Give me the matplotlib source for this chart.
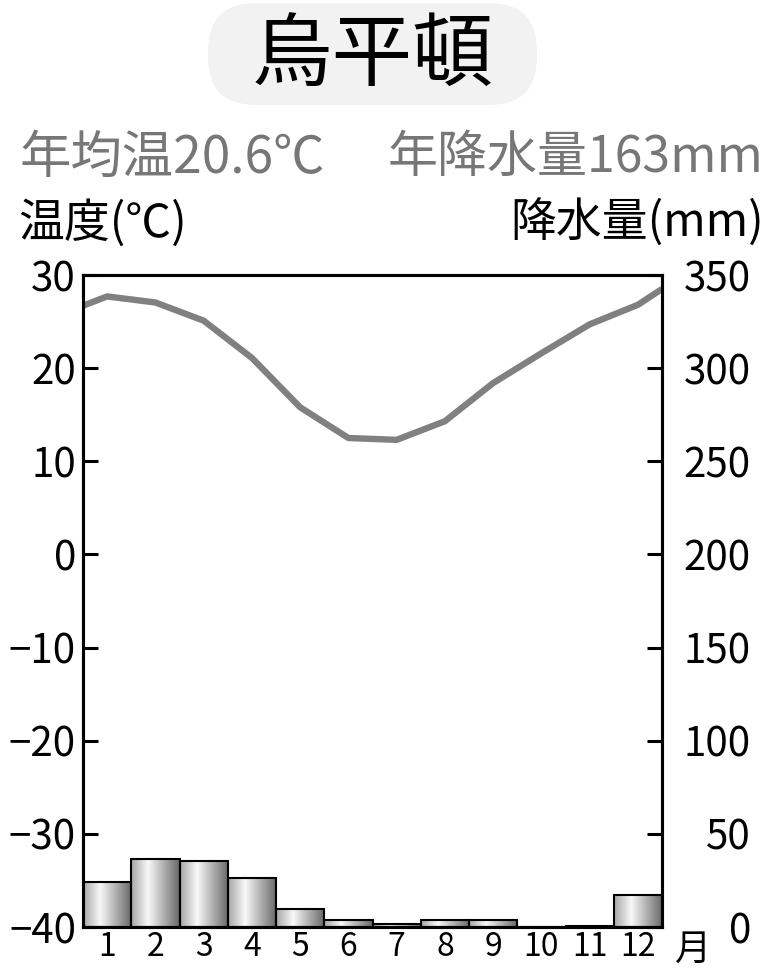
import numpy as np
import matplotlib
matplotlib.use('Agg')
import matplotlib.pyplot as plt
from matplotlib.colors import LinearSegmentedColormap
from matplotlib.patches import FancyBboxPatch
from matplotlib.transforms import IdentityTransform

plt.rcParams['font.family'] = ['Noto Sans CJK JP', 'DejaVu Sans']

city = '烏平頓'
annual_temp = '年均温20.6℃'
annual_precip = '年降水量163mm'
months = list(range(1, 13))
month_labels = [str(m) for m in months]
# temperature line, incl. the points where it meets the plot edges
temp_x = [0.5] + months + [12.5]
temp = [26.7, 27.7, 27.05, 25.1, 21.1, 15.8, 12.5, 12.3, 14.3, 18.4, 21.6, 24.7, 26.8, 28.5]
precip = [24.2, 36.6, 35.2, 26.2, 9.8, 3.8, 1.6, 3.8, 3.8, 0, 0.4, 17]
temp_ticks = list(range(-40, 31, 10))
precip_ticks = list(range(0, 351, 50))

W, H = 766, 975
fig = plt.figure(figsize=(W / 100, H / 100), dpi=100)


def fx(x):
    return x / W


def fy(y):
    return 1 - y / H


# title pill
box = FancyBboxPatch((208, H - 105), 329, 102,
                     boxstyle='round,pad=0,rounding_size=48',
                     fc='#f2f2f2', ec='none', transform=IdentityTransform())
fig.patches.append(box)
fig.text(fx(372), fy(58), city, fontsize=58, ha='center', va='center')

fig.text(fx(20), fy(158), annual_temp, fontsize=37, color='#777777', ha='left', va='center')
fig.text(fx(764), fy(158), annual_precip, fontsize=36, color='#777777', ha='right', va='center')
fig.text(fx(18), fy(224), '温度(℃)', fontsize=33, ha='left', va='center')
fig.text(fx(764), fy(224), '降水量(mm)', fontsize=33, ha='right', va='center')

ax = fig.add_axes([fx(83), fy(927), (662 - 83) / W, (927 - 275) / H])
ax2 = ax.twinx()

# precipitation bars with a metallic gradient
grad = LinearSegmentedColormap.from_list('bar', [(0, '#a6a6a6'), (0.35, '#f8f8f8'), (1, '#666666')])
g = np.linspace(0, 1, 256).reshape(1, -1)
bars = ax2.bar(months, precip, width=1.0, facecolor='none', edgecolor='black', linewidth=1.5, zorder=3)
for rect, m, p in zip(bars, months, precip):
    if p <= 0:
        continue
    im = ax2.imshow(g, cmap=grad, extent=[m - 0.5, m + 0.5, 0, p], aspect='auto', zorder=2)
    im.set_clip_path(rect)

ax.plot(temp_x, temp, color='#808080', linewidth=4.6, solid_joinstyle='round', solid_capstyle='butt')
ax.set_zorder(ax2.get_zorder() + 1)
ax.patch.set_visible(False)

ax.set_xlim(0.5, 12.5)
ax.set_ylim(-40, 30)
ax2.set_ylim(0, 350)
ax.set_xticks(months)
ax.set_xticklabels(month_labels, fontsize=23)
ax.set_yticks(temp_ticks)
ax.set_yticklabels([str(t).replace('-', '\u2212') for t in temp_ticks], fontsize=29)
ax2.set_yticks(precip_ticks)
ax2.set_yticklabels([str(p) for p in precip_ticks], fontsize=29, ha='right')

ax.tick_params(axis='x', length=0, pad=3)
ax.tick_params(axis='y', direction='in', length=11, width=2.2, pad=5)
# right labels are right-aligned at the far edge
ax2.tick_params(axis='y', direction='in', length=11, width=2.2, pad=64)
for a in (ax, ax2):
    for s in a.spines.values():
        s.set_linewidth(2.2)

fig.text(fx(693), fy(950), '月', fontsize=26, ha='center', va='center')

fig.savefig('out.png', dpi=100)
